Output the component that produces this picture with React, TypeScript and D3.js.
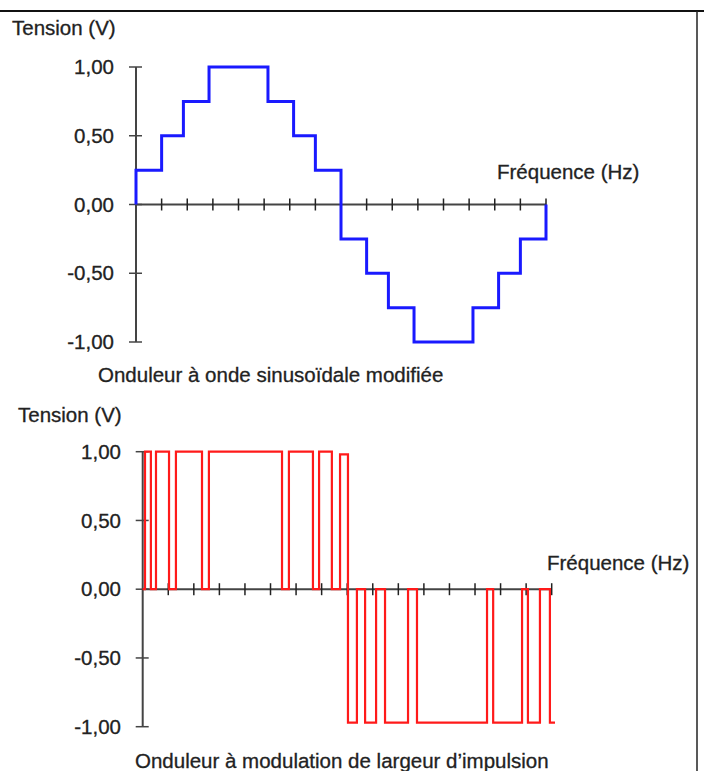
import React, { useEffect, useRef } from 'react';
import * as d3 from 'd3';

// top panel: modified sine wave, each level spans stepEdges[i]..stepEdges[i+1]
const stepEdges = [0, 1, 1.85, 2.85, 5.15, 6.15, 7, 8, 9, 9.85, 10.85, 13.15, 14.15, 15, 16];
const stepLevels = [0.25, 0.5, 0.75, 1, 0.75, 0.5, 0.25, -0.25, -0.5, -0.75, -1, -0.75, -0.5, -0.25];

// bottom panel: PWM pulses
const pwmStart = [0.09, 0.52, 1.3, 2.59, 5.72, 6.9, 7.72, 8.03, 8.7, 9.48, 10.73, 13.71, 15.07, 15.93];
const pwmEnd = [0.32, 1.03, 2.32, 5.45, 6.66, 7.4, 8.03, 8.38, 9.13, 10.38, 13.47, 14.84, 15.54, 16.13];
const pwmLevel = [1, 1, 1, 1, 1, 1, 0.98, -0.97, -0.97, -0.97, -0.97, -0.97, -0.97, -0.97];

const yTicks = [1, 0.5, 0, -0.5, -1];
const yTickLabels = ['1,00', '0,50', '0,00', '-0,50', '-1,00'];
const xTickCount = 16;

const yTitle = 'Tension (V)';
const xTitle = 'Fréquence (Hz)';
const captionTop = 'Onduleur à onde sinusoïdale modifiée';
const captionBottom = "Onduleur à modulation de largeur d’impulsion";

const FONT = '"Liberation Sans", Arial, sans-serif';
const FS = '20.5px';

const App = () => {
  const svgRef = useRef<SVGSVGElement>(null);

  useEffect(() => {
    const svg = d3.select(svgRef.current);
    svg.selectAll('*').remove();

    // frame lines
    svg.append('line').attr('x1', 0).attr('x2', 704).attr('y1', 11).attr('y2', 11)
      .attr('stroke', '#111').attr('stroke-width', 2);
    svg.append('line').attr('x1', 697).attr('x2', 697).attr('y1', 11).attr('y2', 771)
      .attr('stroke', '#222').attr('stroke-width', 1.5);

    const drawPanel = (opts: any) => {
      const x = d3.scaleLinear().domain([0, xTickCount]).range(opts.xRange);
      const y = d3.scaleLinear().domain([-1, 1]).range(opts.yRange);
      const g = svg.append('g');
      const axisColor = '#444';

      // y axis
      g.append('line').attr('x1', x(0)).attr('x2', x(0)).attr('y1', y(1)).attr('y2', y(-1))
        .attr('stroke', axisColor).attr('stroke-width', 2);
      g.selectAll('.ytick').data(yTicks).enter().append('line')
        .attr('x1', x(0) - 7).attr('x2', x(0) + 6)
        .attr('y1', d => y(d)).attr('y2', d => y(d))
        .attr('stroke', axisColor).attr('stroke-width', 1.5);
      g.selectAll('.ylab').data(yTicks).enter().append('text')
        .attr('x', opts.labelRight).attr('y', d => y(d)).attr('dy', '0.35em')
        .attr('text-anchor', 'end')
        .style('font-family', FONT).style('font-size', FS)
        .attr('fill', '#222').attr('stroke', '#222').attr('stroke-width', 0.3)
        .text((d, i) => yTickLabels[i]);

      // x axis
      g.append('line').attr('x1', x(0)).attr('x2', x(xTickCount)).attr('y1', y(0)).attr('y2', y(0))
        .attr('stroke', axisColor).attr('stroke-width', 2);
      g.selectAll('.xtick').data(d3.range(1, xTickCount + 1)).enter().append('line')
        .attr('x1', d => x(d)).attr('x2', d => x(d))
        .attr('y1', y(0) - 6).attr('y2', y(0) + 6)
        .attr('stroke', '#222').attr('stroke-width', 1.5);

      // signal
      g.append('path').attr('d', d3.line()(opts.points.map((p: number[]) => [x(p[0]), y(p[1])])))
        .attr('fill', 'none').attr('stroke', opts.color).attr('stroke-width', opts.width)
        .attr('stroke-linejoin', 'miter');

      const txt = (tx: number, ty: number, s: string) =>
        g.append('text').attr('x', tx).attr('y', ty)
          .style('font-family', FONT).style('font-size', FS)
          .attr('fill', '#222').attr('stroke', '#222').attr('stroke-width', 0.3).text(s);
      txt(opts.yTitle[0], opts.yTitle[1], yTitle);
      txt(opts.xTitle[0], opts.xTitle[1], xTitle);
      txt(opts.caption[0], opts.caption[1], opts.captionText);
    };

    const stepPoints: number[][] = [[stepEdges[0], 0]];
    stepLevels.forEach((v, i) => {
      stepPoints.push([stepEdges[i], v]);
      stepPoints.push([stepEdges[i + 1], v]);
    });
    stepPoints.push([stepEdges[stepEdges.length - 1], 0]);

    const pwmPoints: number[][] = [[0, 0]];
    pwmStart.forEach((s, i) => {
      pwmPoints.push([s, 0], [s, pwmLevel[i]], [pwmEnd[i], pwmLevel[i]]);
      if (i < pwmStart.length - 1) pwmPoints.push([pwmEnd[i], 0]);
    });

    drawPanel({
      xRange: [136, 546], yRange: [342, 67], labelRight: 114,
      points: stepPoints, color: '#1a1aff', width: 3,
      yTitle: [12, 35], xTitle: [497, 179], caption: [98, 382], captionText: captionTop,
    });
    drawPanel({
      xRange: [142.7, 551.7], yRange: [726.7, 451.7], labelRight: 121,
      points: pwmPoints, color: '#ff1a1a', width: 2.2,
      yTitle: [18, 422], xTitle: [547, 570], caption: [135, 768], captionText: captionBottom,
    });
  }, []);

  return (
    <svg ref={svgRef} width={704} height={771}
      style={{ position: 'absolute', left: 0, top: 0, background: '#fff' }} />
  );
};

export default App;
